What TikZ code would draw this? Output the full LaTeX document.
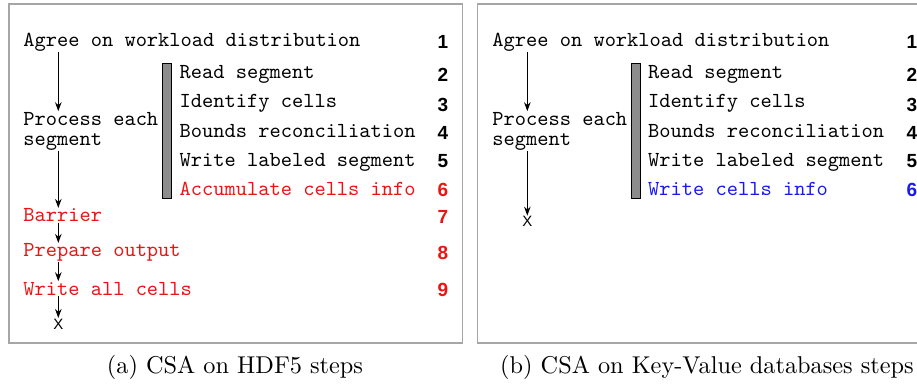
\documentclass[tikz,border=0pt]{standalone}
\usepackage{fontspec}
\setmonofont{lmmono10-regular.otf}
\newfontfamily\numfont{Liberation Sans}
\newfontfamily\capfont{lmroman10-regular.otf}
\usetikzlibrary{arrows.meta}
\definecolor{stepred}{RGB}{235,20,20}
\definecolor{stepblue}{RGB}{25,25,235}
\tikzset{
  steptxt/.style={anchor=base west,inner sep=0.5pt,font=\fontsize{21.4}{22}\selectfont\ttfamily},
  stepnum/.style={anchor=base east,inner sep=0.5pt,font=\fontsize{19}{20}\selectfont\numfont\bfseries},
  endmark/.style={anchor=base,inner sep=0.5pt,font=\fontsize{15}{16}\selectfont\numfont},
  panel/.style={draw=black!35,line width=1.4pt},
  flow/.style={-{Stealth[length=9pt,width=6.5pt]},line width=1.1pt},
  loopbar/.style={draw=black,fill=black!45,line width=0.6pt},
  caption/.style={anchor=base,inner sep=0pt,font=\fontsize{24.3}{26}\selectfont\capfont}
}
\begin{document}
\begin{tikzpicture}[x=1pt,y=-1pt]
\useasboundingbox (0,0) rectangle (917,383);
% (a) HDF5
\draw [panel] (9,4) rectangle (462.7,343);
\node [steptxt] (agreeA) at (22.7,46) {Agree on workload distribution};
\node [stepnum] (numA1) at (449,48) {1};
\node [steptxt] (procA) at (22.7,125) {Process each};
\node [steptxt] (segA) at (22.7,145) {segment};
\draw [loopbar] (162.7,63) rectangle (171.5,198);
\node [steptxt] (readA) at (179,78) {Read segment};
\node [steptxt] (identA) at (179,107.5) {Identify cells};
\node [steptxt] (boundA) at (179,137) {Bounds reconciliation};
\node [steptxt] (labA) at (179,166) {Write labeled segment};
\node [steptxt,text=stepred] (accA) at (179,195) {Accumulate cells info};
\node [stepnum] (numA2) at (449,81.5) {2};
\node [stepnum] (numA3) at (449,111) {3};
\node [stepnum] (numA4) at (449,139.5) {4};
\node [stepnum] (numA5) at (449,167) {5};
\node [stepnum,text=stepred] (numA6) at (449,196) {6};
\node [steptxt,text=stepred] (barA) at (22.7,221.7) {Barrier};
\node [steptxt,text=stepred] (prepA) at (22.7,256.7) {Prepare output};
\node [steptxt,text=stepred] (allA) at (22.7,295) {Write all cells};
\node [stepnum,text=stepred] (numA7) at (449,223) {7};
\node [stepnum,text=stepred] (numA8) at (449,259.5) {8};
\node [stepnum,text=stepred] (numA9) at (449,296) {9};
\node [endmark] (stopA) at (58.3,329) {X};
\draw [flow] (agreeA.south -| stopA) -- (procA.north -| stopA);
\draw [flow] (segA.south -| stopA) -- (barA.north -| stopA);
\draw [flow] (barA.south -| stopA) -- (prepA.north -| stopA);
\draw [flow] (prepA.south -| stopA) -- (allA.north -| stopA);
\draw [flow] (allA.south -| stopA) -- (stopA.north);
\node [caption] (capA) at (235,373) {(a) CSA on HDF5 steps};
% (b) Key-Value
\draw [panel] (477.7,4) rectangle (935,343);
\node [steptxt] (agreeB) at (491.7,46) {Agree on workload distribution};
\node [stepnum] (numB1) at (918,48) {1};
\node [steptxt] (procB) at (491.7,125) {Process each};
\node [steptxt] (segB) at (491.7,145) {segment};
\draw [loopbar] (631.2,63) rectangle (640,198);
\node [steptxt] (readB) at (647.5,78) {Read segment};
\node [steptxt] (identB) at (647.5,107.5) {Identify cells};
\node [steptxt] (boundB) at (647.5,137) {Bounds reconciliation};
\node [steptxt] (labB) at (647.5,166) {Write labeled segment};
\node [steptxt,text=stepblue] (accB) at (647.5,195) {Write cells info};
\node [stepnum] (numB2) at (918,81.5) {2};
\node [stepnum] (numB3) at (918,111) {3};
\node [stepnum] (numB4) at (918,139.5) {4};
\node [stepnum] (numB5) at (918,167) {5};
\node [stepnum,text=stepblue] (numB6) at (918,196) {6};
\node [endmark] (stopB) at (527.3,226.7) {X};
\draw [flow] (agreeB.south -| stopB) -- (procB.north -| stopB);
\draw [flow] (segB.south -| stopB) -- (stopB.north);
\node [caption] (capB) at (707,373) {(b) CSA on Key-Value databases steps};
\end{tikzpicture}
\end{document}
